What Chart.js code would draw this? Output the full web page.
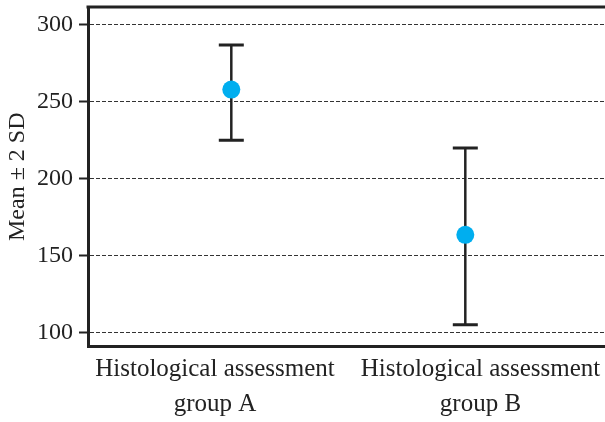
<!DOCTYPE html>
<html>
<head>
<meta charset="utf-8">
<script src="https://cdn.jsdelivr.net/npm/chart.js@4"></script>
<style>
html, body { margin: 0; padding: 0; overflow: hidden; background: #fff; }
#wrap { width: 605px; height: 422px; }
canvas { display: block; }
</style>
</head>
<body>
<div id="wrap"><canvas id="chart"></canvas></div>
<script>
// values
const groupLabels = [['Histological assessment', 'group A'], ['Histological assessment', 'group B']]
const means = [258, 163.5]
const upper = [287, 220]
const lower = [225, 105]
const yTicks = [100, 150, 200, 250, 300]

const serif = 'Liberation Serif'
const ink = '#222'

// mean +/- 2 SD whiskers, drawn under the points
const errorBars = {
	id: 'errorBars',
	beforeDatasetsDraw(chart) {
		const {ctx, scales: {x, y}} = chart
		ctx.save()
		ctx.strokeStyle = ink
		means.forEach((m, i) => {
			const px = x.getPixelForValue(i + 1)
			const hi = y.getPixelForValue(upper[i])
			const lo = y.getPixelForValue(lower[i])
			ctx.lineWidth = 2.5
			ctx.beginPath()
			ctx.moveTo(px, hi)
			ctx.lineTo(px, lo)
			ctx.stroke()
			ctx.lineWidth = 3
			ctx.beginPath()
			ctx.moveTo(px - 12.5, hi)
			ctx.lineTo(px + 12.5, hi)
			ctx.moveTo(px - 12.5, lo)
			ctx.lineTo(px + 12.5, lo)
			ctx.stroke()
		})
		ctx.restore()
	}
}

// frame line along the top
const topBorder = {
	id: 'topBorder',
	afterDraw(chart) {
		const {ctx, chartArea} = chart
		ctx.save()
		ctx.strokeStyle = ink
		ctx.lineWidth = 3
		ctx.beginPath()
		ctx.moveTo(chartArea.left - 1.5, chartArea.top)
		ctx.lineTo(chartArea.right, chartArea.top)
		ctx.stroke()
		ctx.restore()
	}
}

new Chart(document.getElementById('chart'), {
	type: 'scatter',
	data: {
		datasets: [{
			data: means.map((m, i) => ({x: i + 1, y: m})),
			backgroundColor: '#00AEEF',
			borderWidth: 0,
			pointRadius: 9,
			pointHoverRadius: 9,
			xAxisID: 'x',
			yAxisID: 'y'
		}]
	},
	options: {
		responsive: true,
		maintainAspectRatio: false,
		animation: false,
		layout: {autoPadding: false, padding: {top: 7, left: 0, right: 0, bottom: 0}},
		plugins: {legend: {display: false}, tooltip: {enabled: false}},
		scales: {
			x: {
				type: 'linear',
				min: 0.3876,
				max: 2.597,
				display: false
			},
			x2: {
				type: 'linear',
				position: 'bottom',
				min: 0.5217,
				max: 2.469,
				afterBuildTicks: s => { s.ticks = [{value: 1}, {value: 2}] },
				afterFit: s => {
					s.height = 75.5
					s.paddingLeft = 0
					s.paddingRight = 0
				},
				grid: {display: false, drawTicks: false},
				border: {display: true, color: ink, width: 3},
				ticks: {
					callback: (v, i) => groupLabels[i],
					font: {family: serif, size: 25, lineHeight: 1.4},
					color: ink,
					padding: 5,
					maxRotation: 0,
					autoSkip: false
				}
			},
			y: {
				min: 90.8,
				max: 311.7,
				afterBuildTicks: s => { s.ticks = yTicks.map(v => ({value: v})) },
				afterFit: s => {
					s.width = 88
					s.paddingTop = 0
					s.paddingBottom = 0
				},
				border: {display: true, color: ink, width: 3, dash: [4, 2]},
				grid: {
					color: '#333',
					lineWidth: 1,
					tickLength: 9,
					tickColor: ink,
					tickWidth: 2,
					tickBorderDash: []
				},
				ticks: {font: {family: serif, size: 24}, color: ink, padding: 6},
				title: {
					display: true,
					text: 'Mean ± 2 SD',
					font: {family: serif, size: 24},
					color: ink,
					padding: {top: 3, bottom: 0}
				}
			}
		}
	},
	plugins: [errorBars, topBorder]
})
</script>
</body>
</html>
